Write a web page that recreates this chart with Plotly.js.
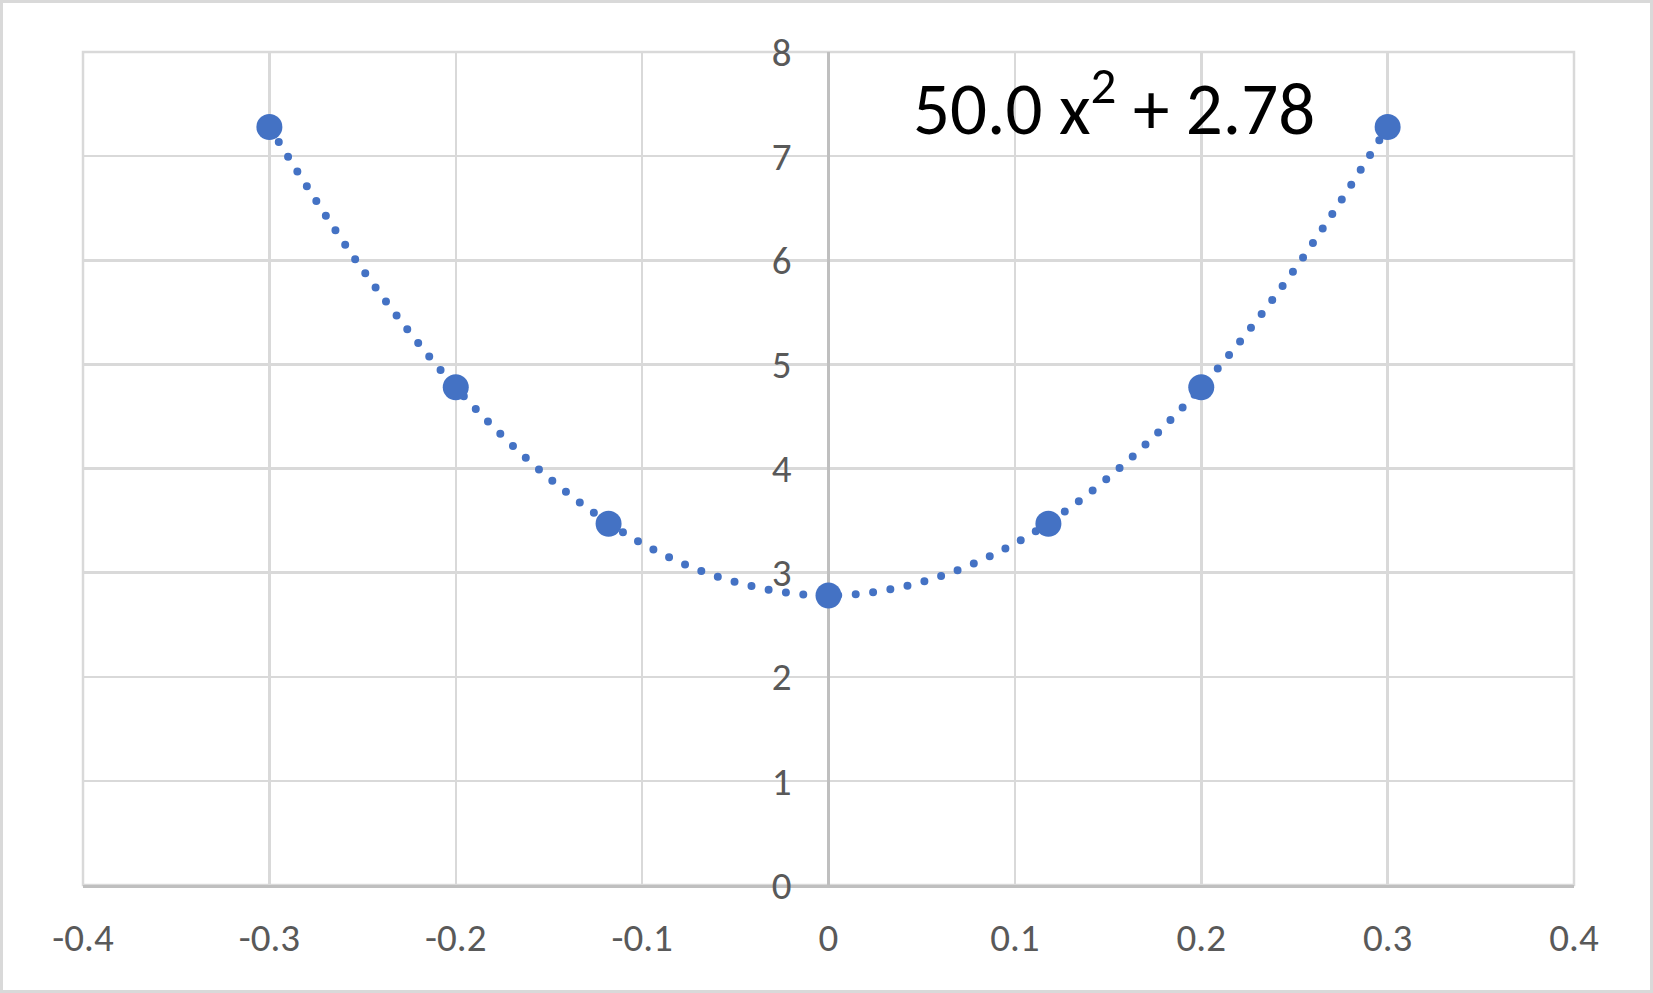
<!DOCTYPE html>
<html>
<head>
<meta charset="utf-8">
<script src="https://cdn.plot.ly/plotly-3.0.1.min.js"></script>
<style>
  html, body { margin: 0; padding: 0; background: #ffffff; }
  #frame { width: 1653px; height: 993px; box-sizing: border-box; border: 3px solid #d9d9d9; background: #fff; }
  #chart { width: 1647px; height: 987px; }
  #chart .scatterlayer .js-line { stroke-linecap: round; }
</style>
</head>
<body>
<div id="frame"><div id="chart"></div></div>
<script>
// Data points
const pointX = [-0.3, -0.2, -0.118, 0, 0.118, 0.2, 0.3];
const pointY = [7.28, 4.78, 3.47, 2.78, 3.47, 4.78, 7.28];

// Trendline samples
const trendX = [-0.3, -0.25, -0.2, -0.15, -0.1, -0.05, 0, 0.05, 0.1, 0.15, 0.2, 0.25, 0.3];
const trendY = [7.28, 5.91, 4.78, 3.91, 3.28, 2.91, 2.78, 2.91, 3.28, 3.91, 4.78, 5.91, 7.28];

const xTicks = [-0.4, -0.3, -0.2, -0.1, 0, 0.1, 0.2, 0.3, 0.4];
const xTickLabels = ['-0.4', '-0.3', '-0.2', '-0.1', '0', '0.1', '0.2', '0.3', '0.4'];
const yTicks = [0, 1, 2, 3, 4, 5, 6, 7, 8];
const yTickLabels = ['0', '1', '2', '3', '4', '5', '6', '7', '8'];

const equationText = '50.0 x<sup>2</sup> + 2.78';

const blue = '#4472c4';
const fontFam = 'Carlito, Lato, "Open Sans", sans-serif';

const traces = [
  {
    x: trendX, y: trendY, type: 'scatter', mode: 'lines',
    line: { color: blue, width: 8, dash: '0px,17.5px', shape: 'spline', smoothing: 1 },
    hoverinfo: 'skip', showlegend: false
  },
  {
    x: pointX, y: pointY, type: 'scatter', mode: 'markers',
    marker: { color: blue, size: 26, line: { width: 0 } },
    hoverinfo: 'skip', showlegend: false
  }
];

const layout = {
  width: 1647, height: 987,
  margin: { l: 80.3, r: 75.7, t: 49.3, b: 105 },
  paper_bgcolor: '#ffffff', plot_bgcolor: '#ffffff',
  font: { family: fontFam, color: '#595959', size: 39 },
  showlegend: false,
  xaxis: {
    range: [-0.4, 0.4], tickvals: xTicks, ticktext: xTickLabels,
    showgrid: true, gridcolor: '#d9d9d9', gridwidth: 2.5,
    zeroline: true, zerolinecolor: '#bfbfbf', zerolinewidth: 2.5,
    showline: true, linecolor: '#bfbfbf', linewidth: 2.5,
    ticks: '', ticklabelstandoff: 17,
    tickfont: { family: fontFam, color: '#595959', size: 39 },
    fixedrange: true
  },
  yaxis: {
    range: [0, 8], tickvals: yTicks, ticktext: yTickLabels,
    anchor: 'free', position: 0.5,
    showgrid: true, gridcolor: '#d9d9d9', gridwidth: 2.5,
    zeroline: false, showline: false,
    ticks: '', ticklabelstandoff: 37,
    tickfont: { family: fontFam, color: '#595959', size: 39 },
    fixedrange: true
  },
  shapes: [
    {
      type: 'rect', xref: 'paper', yref: 'paper', x0: 0, x1: 1, y0: 0, y1: 1,
      line: { color: '#d9d9d9', width: 2.5 }, fillcolor: 'rgba(0,0,0,0)', layer: 'below'
    }
  ],
  annotations: [
    {
      x: 0.044, y: 7.5, xref: 'x', yref: 'y', xanchor: 'left', yanchor: 'middle',
      text: equationText, showarrow: false,
      font: { family: fontFam, color: '#000000', size: 73 }
    }
  ]
};

Plotly.newPlot('chart', traces, layout, { staticPlot: true, displayModeBar: false });
</script>
</body>
</html>
